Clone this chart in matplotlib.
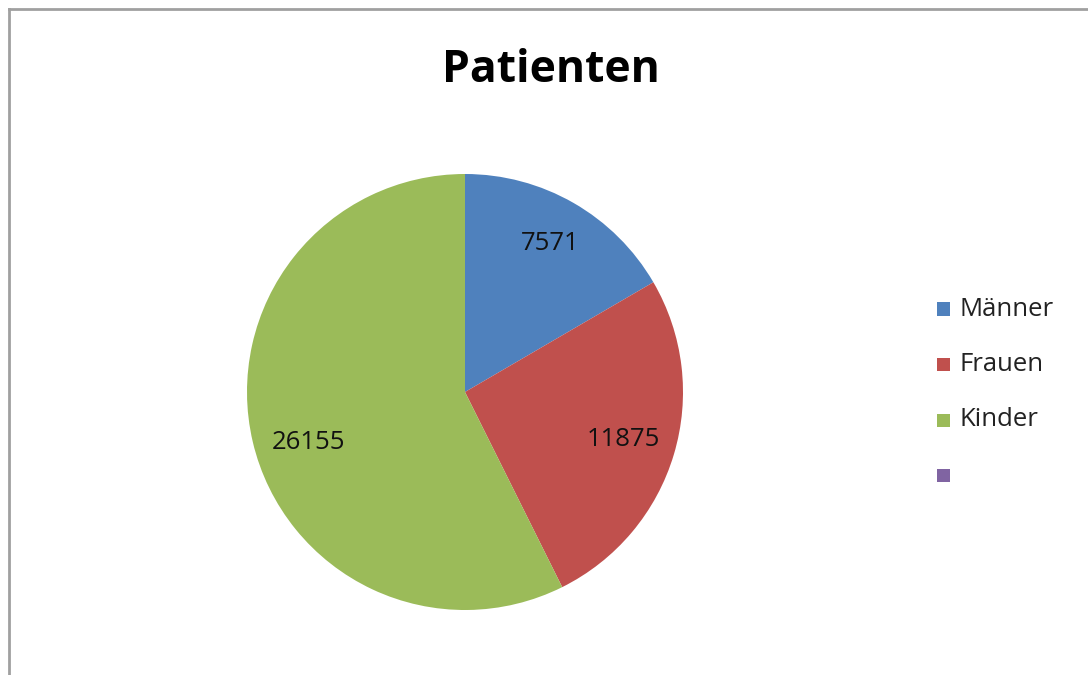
import matplotlib
matplotlib.use("Agg")
import matplotlib.pyplot as plt
import matplotlib.patches as patches
from matplotlib.lines import Line2D

plt.rcParams['font.family'] = ['Open Sans', 'DejaVu Sans']

categories = ["Männer", "Frauen", "Kinder", ""]
values = [7571, 11875, 26155]
colors = ["#4F81BD", "#C0504D", "#9BBB59", "#8064A2"]

W, H = 1088, 675
fig = plt.figure(figsize=(W / 100, H / 100), dpi=100)
fig.patch.set_facecolor("white")

# outer chart frame (only top and left visible in the crop)
fig.add_artist(Line2D([9 / W, 1], [1 - 9 / H, 1 - 9 / H], color="#A0A0A0", lw=2))
fig.add_artist(Line2D([9 / W, 9 / W], [0, 1 - 9 / H], color="#A0A0A0", lw=2))

fig.text(551 / W, 1 - 70 / H, "Patienten", ha="center", va="center",
         fontsize=32, fontweight="bold", color="black")

# pie
cx, cy, r = 465, 392, 218
ax = fig.add_axes([(cx - r) / W, (H - cy - r) / H, 2 * r / W, 2 * r / H])
wedges, texts, autotexts = ax.pie(
    values, colors=colors[:3], startangle=90, counterclock=False,
    autopct=lambda p: "{:d}".format(int(round(p * sum(values) / 100))),
    pctdistance=0.76, wedgeprops=dict(edgecolor="none", linewidth=0),
    textprops=dict(fontsize=18.5, color="#111111"))
# Excel-style label placement
autotexts[0].set_position((0.39, 0.68))
autotexts[2].set_position((-0.72, -0.23))
ax.set_xlim(-1, 1)
ax.set_ylim(-1, 1)
ax.set_aspect("equal")
ax.axis("off")

# legend
lx, ly0, step, sq = 937, 309, 55.5, 13
for i, (lab, col) in enumerate(zip(categories, colors)):
    y = ly0 + i * step
    fig.add_artist(patches.Rectangle(((lx) / W, 1 - (y + sq / 2) / H), sq / W, sq / H,
                                     transform=fig.transFigure, facecolor=col,
                                     edgecolor="none"))
    fig.text((lx + sq + 10) / W, 1 - y / H, lab, ha="left", va="center",
             fontsize=18.5, color="#222222")

fig.savefig("out.png", dpi=100)
